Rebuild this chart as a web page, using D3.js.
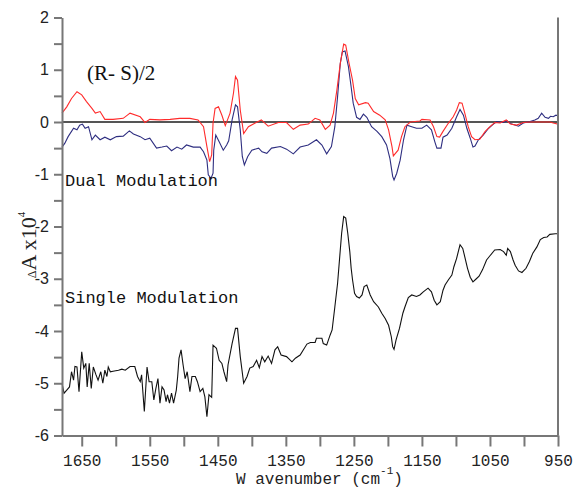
<!DOCTYPE html>
<html>
<head>
<meta charset="utf-8">
<script src="https://cdnjs.cloudflare.com/ajax/libs/d3/7.8.5/d3.min.js"></script>
<style>
body { margin: 0; background: #fff; }
.axis path, .axis line { stroke: #777; stroke-width: 2; }
.axis text { fill: #222; }
</style>
</head>
<body>
<script>
// (R-S)/2, dual modulation (red)
var redWn  = [1679,1672,1665,1657,1650,1643,1635,1630,1623,1616,1604,1589,1579,1564,1557,1550,1535,1520,1506,1491,1479,1471,1466,1462,1459,1457,1454,1449,1444,1439,1432,1427,1424,1421,1417,1412,1405,1395,1386,1376,1361,1349,1339,1329,1317,1307,1300,1292,1285,1280,1275,1270,1265,1262,1257,1252,1248,1243,1233,1229,1221,1212,1204,1199,1194,1192,1185,1180,1175,1167,1153,1150,1138,1133,1128,1124,1119,1111,1104,1099,1095,1091,1087,1082,1077,1072,1065,1057,1050,1043,1035,1026,1020,1011,1001,991,962,957,950];
var redVal = [0.17,0.29,0.45,0.58,0.52,0.39,0.26,0.17,0.20,0.05,0.05,0.07,0.17,0.10,-0.01,0.05,0.04,0.05,0.07,0.07,0.04,-0.09,-0.47,-0.76,-0.63,-0.02,0.26,0.29,0.13,-0.07,0.17,0.55,0.87,0.80,0.23,-0.22,-0.09,-0.02,0.04,-0.08,-0.01,-0.01,-0.14,-0.06,-0.04,0.07,0.04,-0.14,-0.06,0.17,0.61,1.12,1.49,1.47,1.12,0.80,0.45,0.33,0.37,0.36,0.20,0.13,0.04,-0.15,-0.47,-0.65,-0.54,-0.28,-0.09,0.00,0.02,0.05,0.04,-0.09,-0.28,-0.29,-0.18,-0.02,0.10,0.23,0.37,0.36,0.17,-0.09,-0.28,-0.34,-0.33,-0.18,-0.09,-0.01,-0.02,0.04,-0.04,-0.06,-0.01,0.00,0.00,-0.02,-0.04];

// dual modulation (blue)
var blueWn  = [1679,1675,1670,1662,1657,1653,1649,1645,1640,1635,1630,1623,1616,1608,1599,1589,1580,1574,1564,1557,1550,1540,1532,1525,1518,1510,1503,1496,1486,1476,1471,1466,1464,1460,1457,1456,1453,1448,1442,1437,1434,1429,1424,1421,1417,1414,1411,1406,1400,1390,1385,1378,1371,1358,1349,1339,1329,1317,1305,1297,1290,1283,1278,1274,1270,1267,1263,1258,1254,1251,1246,1241,1236,1231,1224,1216,1209,1202,1197,1193,1191,1187,1182,1177,1172,1165,1158,1150,1143,1136,1131,1128,1122,1119,1113,1106,1099,1094,1089,1084,1079,1075,1072,1067,1060,1052,1045,1040,1030,1025,1018,1008,1001,991,984,979,974,969,964,961,957,953,950];
var blueVal = [-0.48,-0.41,-0.28,-0.12,-0.15,-0.06,-0.04,-0.12,-0.09,-0.34,-0.25,-0.34,-0.29,-0.34,-0.28,-0.27,-0.17,-0.23,-0.28,-0.34,-0.31,-0.50,-0.48,-0.46,-0.55,-0.48,-0.52,-0.44,-0.48,-0.48,-0.57,-0.73,-1.01,-1.08,-0.98,-0.54,-0.25,-0.38,-0.54,-0.44,-0.36,0.04,0.33,0.29,-0.15,-0.66,-0.82,-0.66,-0.54,-0.50,-0.57,-0.60,-0.50,-0.47,-0.52,-0.61,-0.48,-0.44,-0.34,-0.44,-0.61,-0.47,-0.09,0.48,1.12,1.34,1.36,1.06,0.67,0.36,0.09,0.05,0.15,0.09,-0.09,-0.18,-0.28,-0.44,-0.70,-1.04,-1.11,-0.98,-0.73,-0.34,-0.06,-0.09,-0.12,-0.12,-0.06,-0.15,-0.38,-0.50,-0.50,-0.29,-0.25,-0.12,0.10,0.24,0.13,-0.12,-0.31,-0.48,-0.46,-0.34,-0.25,-0.12,-0.04,0.01,-0.01,0.02,-0.04,-0.08,-0.02,0.01,0.04,0.07,0.17,0.09,0.07,0.11,0.10,0.13,0.12];

// single modulation (black)
var singleWn  = [1679,1676,1672,1668,1665,1662,1660,1657,1654,1650,1647,1644,1642,1639,1636,1633,1629,1626,1622,1619,1616,1613,1611,1608,1604,1596,1591,1586,1579,1572,1568,1564,1562,1558,1554,1551,1547,1544,1541,1538,1535,1532,1529,1526,1524,1521,1518,1515,1511,1509,1507,1504,1501,1498,1495,1491,1488,1483,1480,1476,1472,1469,1466,1463,1459,1457,1452,1448,1444,1441,1437,1435,1429,1424,1421,1417,1412,1407,1403,1398,1393,1389,1385,1381,1376,1371,1366,1362,1357,1349,1341,1336,1329,1319,1314,1307,1305,1297,1295,1290,1285,1282,1278,1274,1270,1268,1265,1262,1259,1256,1254,1252,1249,1246,1242,1238,1235,1231,1226,1221,1214,1209,1204,1199,1195,1193,1191,1188,1183,1178,1175,1170,1165,1158,1153,1148,1141,1136,1132,1128,1123,1119,1116,1111,1106,1103,1099,1096,1094,1090,1087,1083,1079,1075,1070,1066,1061,1055,1050,1043,1035,1030,1026,1024,1020,1016,1013,1008,1003,997,992,987,981,976,971,966,962,954,950];
var singleVal = [-5.00,-5.19,-5.13,-5.07,-4.78,-4.94,-4.68,-4.69,-5.16,-4.40,-4.71,-4.62,-5.07,-4.62,-5.10,-4.69,-4.84,-4.94,-4.78,-5.00,-4.75,-4.87,-4.69,-4.78,-4.77,-4.75,-4.73,-4.75,-4.68,-4.68,-4.87,-4.97,-4.84,-5.54,-4.69,-4.97,-4.97,-5.32,-5.10,-4.91,-5.38,-5.07,-5.13,-5.35,-5.22,-5.38,-5.19,-5.38,-5.13,-4.87,-4.52,-4.36,-4.65,-4.91,-4.78,-5.16,-4.87,-4.87,-4.97,-5.16,-5.10,-5.26,-5.64,-5.22,-5.27,-4.27,-4.33,-4.56,-4.62,-4.78,-4.97,-4.65,-4.24,-3.95,-3.95,-4.49,-5.00,-4.87,-4.71,-4.68,-4.56,-4.70,-4.49,-4.59,-4.48,-4.62,-4.36,-4.30,-4.46,-4.49,-4.59,-4.52,-4.46,-4.25,-4.22,-4.22,-4.14,-4.14,-4.24,-4.27,-4.08,-3.98,-3.54,-3.09,-2.45,-2.13,-1.81,-1.84,-2.13,-2.48,-2.80,-3.02,-3.28,-3.34,-3.37,-3.31,-3.15,-3.12,-3.31,-3.44,-3.54,-3.66,-3.76,-3.89,-4.11,-4.30,-4.35,-4.17,-3.95,-3.66,-3.54,-3.36,-3.31,-3.34,-3.31,-3.25,-3.18,-3.25,-3.41,-3.50,-3.44,-3.22,-3.12,-3.02,-2.93,-2.77,-2.61,-2.45,-2.35,-2.42,-2.58,-2.80,-2.97,-3.06,-3.00,-2.95,-2.83,-2.64,-2.56,-2.45,-2.44,-2.48,-2.55,-2.42,-2.48,-2.64,-2.74,-2.85,-2.88,-2.80,-2.67,-2.51,-2.39,-2.25,-2.21,-2.20,-2.15,-2.14,-2.14];

// ticks
var xTicks = [1650,1600,1550,1500,1450,1400,1350,1300,1250,1200,1150,1100,1050,1000,950];
var xLabels = [1650,1550,1450,1350,1250,1150,1050,950];
var yTicks = [2,1.5,1,0.5,0,-0.5,-1,-1.5,-2,-2.5,-3,-3.5,-4,-4.5,-5,-5.5,-6];

var w = 574, h = 489;
var mLeft = 62, mRight = 558, mTop = 17.5, mBottom = 435.5;

var svg = d3.select("body").append("svg").attr("width", w).attr("height", h);

var xScale = d3.scaleLinear().domain([1679, 950]).range([mLeft, mRight]);
var yScale = d3.scaleLinear().domain([2, -6]).range([mTop, mBottom]);

function pairs(xs, ys) {
  return xs.map(function(x, i) { return [x, ys[i]]; });
}

var line = d3.line()
  .x(function(d) { return xScale(d[0]); })
  .y(function(d) { return yScale(d[1]); });

//zero line
svg.append("line")
  .attr("x1", mLeft).attr("x2", mRight)
  .attr("y1", yScale(0)).attr("y2", yScale(0))
  .attr("stroke", "#555").attr("stroke-width", 2);

svg.append("path").datum(pairs(blueWn, blueVal))
  .attr("d", line).attr("fill", "none")
  .attr("stroke", "#2e2e80").attr("stroke-width", 1.1);

svg.append("path").datum(pairs(redWn, redVal))
  .attr("d", line).attr("fill", "none")
  .attr("stroke", "#ff2b2b").attr("stroke-width", 1.1);

svg.append("path").datum(pairs(singleWn, singleVal))
  .attr("d", line).attr("fill", "none")
  .attr("stroke", "#111").attr("stroke-width", 1.1);

//X axis
var xAxis = d3.axisBottom(xScale)
  .tickValues(xTicks)
  .tickSize(11)
  .tickSizeOuter(0)
  .tickPadding(8)
  .tickFormat(function(d) { return xLabels.indexOf(d) >= 0 ? d : ""; });

svg.append("g")
  .attr("class", "axis")
  .attr("transform", "translate(0," + mBottom + ")")
  .call(xAxis)
  .selectAll("text")
  .style("font-family", "'Liberation Mono', monospace")
  .style("font-size", "16px");

//Y axis
var yAxis = d3.axisLeft(yScale)
  .tickValues(yTicks)
  .tickSize(8)
  .tickSizeOuter(0)
  .tickPadding(5)
  .tickFormat(function(d) { return Number.isInteger(d) ? String(d) : ""; });

svg.append("g")
  .attr("class", "axis")
  .attr("transform", "translate(" + mLeft + ",0)")
  .call(yAxis)
  .selectAll("text")
  .style("font-family", "'Liberation Sans', Arial, sans-serif")
  .style("font-size", "16px");

//right frame line
svg.append("line")
  .attr("x1", mRight).attr("x2", mRight)
  .attr("y1", mTop).attr("y2", mBottom)
  .attr("stroke", "#777").attr("stroke-width", 2);

//labels
var xt = svg.append("text")
  .attr("x", 236).attr("y", 484)
  .style("font-family", "'Liberation Mono', monospace")
  .style("font-size", "16px")
  .attr("fill", "#222");
xt.append("tspan").text("W avenumber (cm");
xt.append("tspan").attr("dy", -10).style("font-size", "11px").text("-1");
xt.append("tspan").attr("dy", 10).text(")");

var yt = svg.append("text")
  .attr("transform", "translate(36,245) rotate(-90)")
  .attr("text-anchor", "middle")
  .style("font-family", "'Liberation Serif', 'Times New Roman', serif")
  .attr("fill", "#222");
yt.append("tspan").style("font-size", "12px").text("\u0394");
yt.append("tspan").style("font-size", "22px").text("A x10");
yt.append("tspan").attr("dy", -11).style("font-size", "11px").text("4");

svg.append("text")
  .attr("x", 87).attr("y", 80)
  .style("font-family", "'Liberation Serif', 'Times New Roman', serif")
  .style("font-size", "21px")
  .attr("fill", "#111")
  .text("(R- S)/2");

svg.append("text")
  .attr("x", 65).attr("y", 186)
  .style("font-family", "'Liberation Mono', monospace")
  .style("font-size", "17px")
  .attr("fill", "#111")
  .text("Dual Modulation");

svg.append("text")
  .attr("x", 65).attr("y", 303)
  .style("font-family", "'Liberation Mono', monospace")
  .style("font-size", "17px")
  .attr("fill", "#111")
  .text("Single Modulation");
</script>
</body>
</html>
